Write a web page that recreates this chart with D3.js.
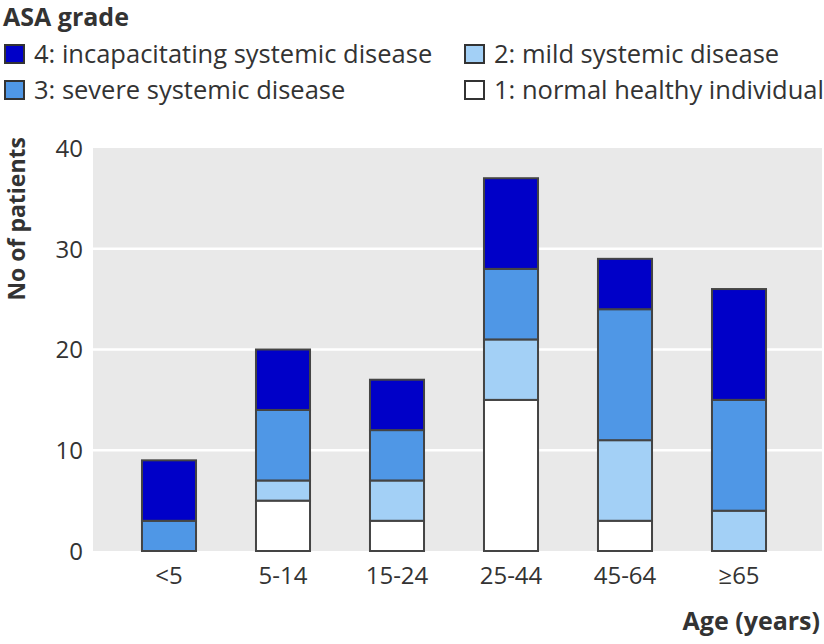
<!DOCTYPE html>
<html><head><meta charset="utf-8">
<script src="https://cdn.jsdelivr.net/npm/d3@7"></script>
<style>
body{margin:0;background:#fff;}
text{font-family:"Open Sans",Roboto,sans-serif;fill:#333;}
</style></head>
<body><svg id="c" width="824" height="644"></svg>
<script>
const categories = ["<5","5-14","15-24","25-44","45-64","≥65"];
const grade1 = [0,5,3,15,3,0];
const grade2 = [0,2,4,6,8,4];
const grade3 = [3,7,5,7,13,11];
const grade4 = [6,6,5,9,5,11];
const seriesKeys = ["g1","g2","g3","g4"];
const seriesLabels = {g4:"4: incapacitating systemic disease", g3:"3: severe systemic disease", g2:"2: mild systemic disease", g1:"1: normal healthy individual"};
const colors = {g1:"#ffffff", g2:"#a3d0f6", g3:"#4f97e6", g4:"#0000c8"};
const yTicks = [0,10,20,30,40];

const table = categories.map((c,i)=>({cat:c, g1:grade1[i], g2:grade2[i], g3:grade3[i], g4:grade4[i]}));
const stack = d3.stack().keys(seriesKeys)(table);

const svg = d3.select("#c");
const plot = {left:93, right:822, top:148, bottom:551};
const x = d3.scaleBand().domain(categories).range([112,796]).paddingInner(0.526).paddingOuter(0.263);
const y = d3.scaleLinear().domain([0,40]).range([plot.bottom, plot.top]);

svg.append("rect").attr("x",plot.left).attr("y",plot.top).attr("width",plot.right-plot.left).attr("height",plot.bottom-plot.top).attr("fill","#e9e9e9");

svg.append("g").selectAll("line").data(yTicks.filter(t=>t>0 && t<40)).join("line")
  .attr("x1",plot.left).attr("x2",plot.right).attr("y1",d=>y(d)).attr("y2",d=>y(d))
  .attr("stroke","#fff").attr("stroke-width",2.5);

const yAxis = svg.append("g").attr("transform",`translate(${plot.left},0)`)
  .call(d3.axisLeft(y).tickValues(yTicks).tickSize(0).tickPadding(10));
yAxis.select(".domain").remove();
yAxis.selectAll("text").attr("font-size",24).attr("fill","#333").attr("font-family","'Open Sans'").attr("dy","0.35em");

const xAxis = svg.append("g").attr("transform",`translate(0,${plot.bottom})`)
  .call(d3.axisBottom(x).tickSize(0).tickPadding(16));
xAxis.select(".domain").remove();
xAxis.selectAll("text").attr("font-size",24).attr("fill","#333").attr("font-family","'Open Sans'");

svg.append("g").selectAll("g").data(stack).join("g").attr("fill",d=>colors[d.key])
  .selectAll("rect").data(d=>d.filter(s=>s[1]-s[0]>0)).join("rect")
  .attr("x",d=>x(d.data.cat)).attr("width",x.bandwidth())
  .attr("y",d=>y(d[1])).attr("height",d=>y(d[0])-y(d[1]))
  .attr("stroke","#444").attr("stroke-width",2);

svg.append("text").attr("transform",`translate(25,137) rotate(-90)`).attr("text-anchor","end")
  .attr("font-size",23).attr("font-weight","bold").attr("fill","#222").text("No of patients");

svg.append("text").attr("x",820).attr("y",630).attr("text-anchor","end")
  .attr("font-size",25).attr("font-weight","bold").attr("fill","#222").text("Age (years)");

svg.append("text").attr("x",3).attr("y",26).attr("font-size",25).attr("font-weight","bold").attr("fill","#222").text("ASA grade");

const legendItems = [
  {k:"g4", x:5, y:45},{k:"g2", x:465, y:45},
  {k:"g3", x:5, y:81},{k:"g1", x:465, y:81}
];
const lg = svg.append("g").selectAll("g").data(legendItems).join("g").attr("transform",d=>`translate(${d.x},${d.y})`);
lg.append("rect").attr("width",19).attr("height",18).attr("fill",d=>colors[d.k]).attr("stroke","#333").attr("stroke-width",2);
lg.append("text").attr("x",29).attr("y",18).attr("font-size",25.5).attr("fill","#333").text(d=>seriesLabels[d.k]);
</script></body></html>
